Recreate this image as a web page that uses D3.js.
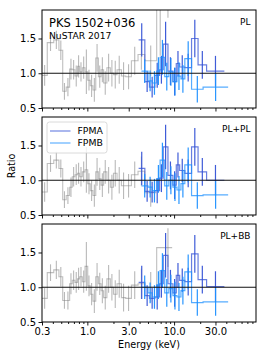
<!DOCTYPE html>
<html><head><meta charset="utf-8">
<script src="https://cdn.jsdelivr.net/npm/d3@7"></script>
<style>body{margin:0;background:#fff}svg text{font-family:"DejaVu Sans",sans-serif}</style>
</head><body><svg id="c" width="266" height="358"></svg>
<script>
// ---------- data ----------
const panelNames = ["PL", "PL+PL", "PL+BB"];
const xTicks = [0.3, 1, 3, 10, 30];
const xTickLabels = ["0.3", "1.0", "3.0", "10.0", "30.0"];
const xMinorTicks = [0.4,0.5,0.6,0.7,0.8,0.9,2,4,5,6,7,8,9,20,40,50,60,70,80];
const yTicks = [0.5, 1.0, 1.5];
const yTickLabels = ["0.5", "1.0", "1.5"];
const seriesNames = ["FPMA", "FPMB"];

// soft X-ray (gray) bins, keV edges
const grayEdges = [0.30,0.345,0.41,0.47,0.52,0.57,0.625,0.67,0.72,0.77,0.815,0.875,0.94,1.01,1.08,1.16,1.25,1.34,1.44,1.54,1.68,1.84,2.0,2.2,2.47,2.77,3.22,3.84,4.59,6.3,7.6,9.5];
const grayPL   = [0.97,1.44,1.48,1.33,0.74,0.80,1.06,1.05,0.96,1.10,1.02,1.08,1.02,0.90,0.82,0.76,1.22,0.95,1.05,0.86,1.08,1.00,0.98,1.05,0.96,0.95,1.18,1.27,1.18,1.95,2.30];
const grayPLPL = [0.83,1.24,1.29,1.17,0.72,0.78,0.90,1.05,1.08,1.10,1.05,1.12,1.15,0.95,0.85,0.78,1.12,1.02,0.93,1.12,1.00,0.90,1.10,1.00,0.92,0.92,1.08,1.13,0.82,null,null];
const grayPLBB = [0.84,1.21,1.25,1.15,0.81,0.81,1.05,1.10,1.07,1.12,1.15,1.08,1.30,1.02,0.90,0.80,1.15,1.05,0.95,0.85,1.12,1.00,0.90,1.05,0.85,0.84,1.03,1.05,1.00,1.57,1.57];
const grayErrPL   = [0.15,0.12,0.13,0.14,0.12,0.13,0.15,0.14,0.15,0.16,0.14,0.16,0.32,0.15,0.16,0.17,0.20,0.16,0.18,0.17,0.20,0.19,0.20,0.20,0.20,0.18,0.20,0.22,0.22,0.70,0.50];
const grayErrPLPL = [0.14,0.12,0.12,0.13,0.12,0.12,0.14,0.14,0.15,0.15,0.14,0.15,0.33,0.15,0.15,0.16,0.20,0.16,0.17,0.17,0.19,0.18,0.19,0.19,0.19,0.17,0.19,0.21,0.20,null,null];
const grayErrPLBB = [0.15,0.12,0.13,0.14,0.12,0.13,0.15,0.14,0.15,0.16,0.14,0.16,0.35,0.15,0.16,0.17,0.20,0.16,0.18,0.17,0.20,0.19,0.20,0.20,0.20,0.18,0.20,0.22,0.22,null,0.28];

// NuSTAR FPMA bins
const fpmaEdges = [3.9,4.6,5.2,6.0,6.8,7.5,8.5,9.7,10.6,11.6,13.3,15.9,18.9,23.7,38];
const fpmaPL   = [1.48,0.88,0.80,0.97,1.05,1.42,1.03,0.88,1.14,1.09,1.08,1.50,1.12,1.03];
const fpmaPLPL = [1.17,0.84,0.83,0.85,1.03,1.48,1.07,0.93,1.22,1.14,1.10,1.48,1.12,1.00];
const fpmaPLBB = [1.07,0.88,0.84,0.86,1.05,1.46,1.05,0.92,1.17,1.10,1.08,1.48,1.11,1.01];
const fpmaErr  = [0.24,0.15,0.15,0.18,0.20,0.32,0.20,0.20,0.18,0.17,0.20,0.27,0.20,0.22];

// NuSTAR FPMB bins
const fpmbEdges = [4.2,5.0,5.6,6.3,6.9,7.8,8.7,9.7,10.8,12.0,13.3,15.9,21.6,42];
const fpmbPL   = [1.03,0.89,0.86,1.03,1.23,0.95,1.02,0.88,0.96,0.92,1.21,0.77,0.80];
const fpmbPLPL = [0.92,0.90,0.85,1.02,1.29,0.92,1.00,0.90,0.86,0.95,1.22,0.78,0.79];
const fpmbPLBB = [1.00,0.92,0.86,1.03,1.24,0.92,0.98,0.88,0.86,0.95,1.22,0.78,0.79];
const fpmbErr  = [0.17,0.15,0.17,0.20,0.25,0.20,0.20,0.20,0.20,0.20,0.25,0.19,0.20];

const grayVals = [grayPL, grayPLPL, grayPLBB];
const grayErrs = [grayErrPL, grayErrPLPL, grayErrPLBB];
const fpmaVals = [fpmaPL, fpmaPLPL, fpmaPLBB];
const fpmbVals = [fpmbPL, fpmbPLPL, fpmbPLBB];

// ---------- layout ----------
const L = 42, R = 256, PH = 98, tops = [10, 117, 224];
const GRAY = "#808080", BLUE_A = "#3553d6", BLUE_B = "#1E90FF";
const svg = d3.select("#c");
const x = d3.scaleLog().domain([0.3, 88]).range([L, R]);

function binsOf(edges, vals, errs) {
  return vals.map((v, i) => ({lo: edges[i], hi: edges[i + 1], v: v, e: errs ? errs[i] : null}));
}

function drawSeries(g, y, bins, color, stepOp, errOp, sw) {
  const pts = [];
  bins.forEach((b, i) => {
    pts.push({e: b.lo, v: b.v});
    pts.push({e: b.hi, v: b.v});
    const nb = bins[i + 1];
    if (nb && nb.lo !== b.hi) pts.push({e: b.hi, v: null});
  });
  const line = d3.line().defined(d => d.v != null).x(d => x(d.e)).y(d => y(d.v));
  g.append("path").attr("d", line(pts)).attr("fill", "none")
    .attr("stroke", color).attr("stroke-opacity", stepOp).attr("stroke-width", sw);
  g.selectAll(null).data(bins.filter(b => b.v != null && b.e != null)).enter().append("line")
    .attr("x1", b => x(Math.sqrt(b.lo * b.hi))).attr("x2", b => x(Math.sqrt(b.lo * b.hi)))
    .attr("y1", b => y(b.v - b.e)).attr("y2", b => y(b.v + b.e))
    .attr("stroke", color).attr("stroke-opacity", errOp).attr("stroke-width", sw);
}

panelNames.forEach((name, i) => {
  const top = tops[i], bot = top + PH;
  const y = d3.scaleLinear().domain([0.5, 1.91]).range([bot, top]);
  const clipId = "clip" + i;
  svg.append("clipPath").attr("id", clipId).append("rect")
    .attr("x", L).attr("y", top).attr("width", R - L).attr("height", PH);
  const g = svg.append("g").attr("clip-path", `url(#${clipId})`);

  drawSeries(g, y, binsOf(grayEdges, grayVals[i], grayErrs[i]), GRAY, 0.5, 0.55, 1.1);
  drawSeries(g, y, binsOf(fpmaEdges, fpmaVals[i], fpmaErr), BLUE_A, 0.75, 0.95, 1.2);
  drawSeries(g, y, binsOf(fpmbEdges, fpmbVals[i], fpmbErr), BLUE_B, 0.75, 0.95, 1.2);

  // reference line at ratio 1
  svg.append("line").attr("x1", L).attr("x2", R).attr("y1", y(1)).attr("y2", y(1))
    .attr("stroke", "#111").attr("stroke-width", 1.2);

  // axes
  const xa = d3.axisBottom(x).tickValues(xTicks).tickSize(3.5).tickPadding(2.5)
    .tickFormat((d, k) => i === 2 ? xTickLabels[k] : "");
  const gx = svg.append("g").attr("transform", `translate(0,${bot})`).call(xa);
  const xm = d3.axisBottom(x).tickValues(xMinorTicks).tickSize(2).tickFormat("");
  const gxm = svg.append("g").attr("transform", `translate(0,${bot})`).call(xm);
  const ya = d3.axisLeft(y).tickValues(yTicks).tickSize(3.5).tickPadding(2.5)
    .tickFormat((d, k) => yTickLabels[k]);
  const gy = svg.append("g").attr("transform", `translate(${L},0)`).call(ya);
  [gx, gxm, gy].forEach(a => {
    a.select(".domain").remove();
    a.selectAll("line").attr("stroke", "#000").attr("stroke-width", 0.9);
    a.selectAll("text").attr("font-family", "DejaVu Sans").attr("font-size", 10).attr("fill", "#000");
  });

  // frame
  svg.append("rect").attr("x", L).attr("y", top).attr("width", R - L).attr("height", PH)
    .attr("fill", "none").attr("stroke", "#000").attr("stroke-width", 1);

  // model name
  svg.append("text").attr("x", 250.5).attr("y", top + 15).attr("text-anchor", "end")
    .attr("font-size", 9).text(name);
});

// title block
svg.append("text").attr("x", 49).attr("y", 27.3).attr("font-size", 11.5).text("PKS 1502+036");
svg.append("text").attr("x", 49).attr("y", 38.6).attr("font-size", 9.2).text("NuSTAR 2017");

// legend in middle panel
const lg = svg.append("g");
lg.append("rect").attr("x", 47).attr("y", 122).attr("width", 60).attr("height", 31).attr("rx", 2.5)
  .attr("fill", "#fff").attr("fill-opacity", 0.8).attr("stroke", "#d0d0d0").attr("stroke-width", 0.8);
[BLUE_A, BLUE_B].forEach((c, k) => {
  const yy = 131 + k * 12;
  lg.append("line").attr("x1", 50).attr("x2", 70.5).attr("y1", yy).attr("y2", yy)
    .attr("stroke", c).attr("stroke-opacity", 0.65).attr("stroke-width", 1.3);
  lg.append("text").attr("x", 77.5).attr("y", yy + 3.4).attr("font-size", 9.3).text(seriesNames[k]);
});

// axis titles
svg.append("text").attr("transform", "translate(14.5,166) rotate(-90)").attr("text-anchor", "middle")
  .attr("font-size", 9.6).text("Ratio");
svg.append("text").attr("x", 149).attr("y", 348).attr("text-anchor", "middle")
  .attr("font-size", 9.6).text("Energy (keV)");
</script></body></html>
